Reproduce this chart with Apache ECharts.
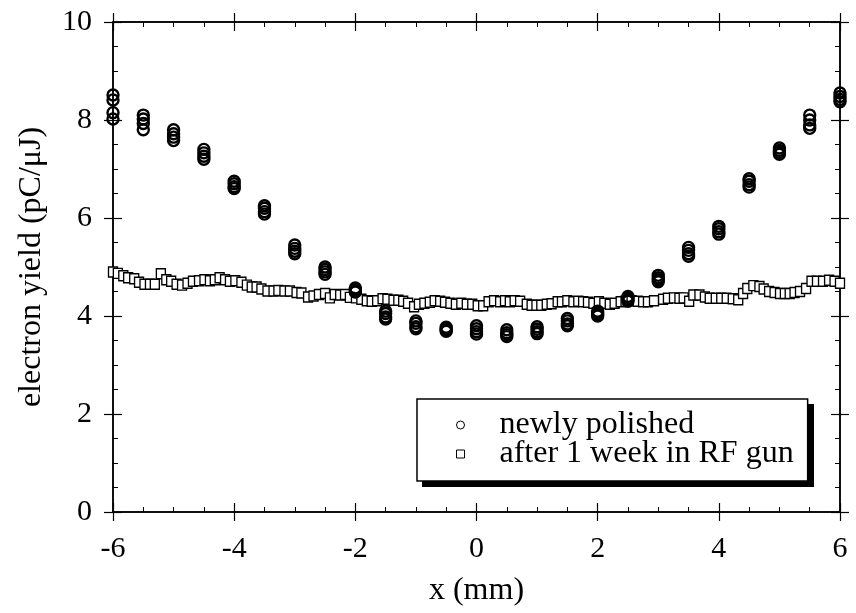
<!DOCTYPE html>
<html>
<head>
<meta charset="utf-8">
<script src="https://cdn.jsdelivr.net/npm/echarts@6/dist/echarts.min.js"></script>
<style>html,body{margin:0;padding:0;background:#fff;}#c{width:856px;height:613px;}</style>
</head>
<body>
<div id="c"></div>
<script>
// ---- data ----
const xTickLabels = ['-6','-4','-2','0','2','4','6'];
const yTickLabels = ['0','2','4','6','8','10'];

// newly polished: several repeated scans at each position
const polishedX = [-6,-5.5,-5,-4.5,-4,-3.5,-3,-2.5,-2,-1.5,-1,-0.5,0,0.5,1,1.5,2,2.5,3,3.5,4,4.5,5,5.5,6];
const polishedScan1 = [8.51,8.10,7.80,7.40,6.75,6.25,5.45,5.00,4.57,4.10,3.90,3.77,3.80,3.72,3.78,3.95,4.10,4.40,4.83,5.40,5.83,6.80,7.43,8.10,8.55];
const polishedScan2 = [8.41,8.02,7.72,7.33,6.70,6.20,5.38,4.95,4.54,4.05,3.85,3.74,3.74,3.66,3.73,3.90,4.06,4.36,4.78,5.34,5.78,6.75,7.38,8.00,8.48];
const polishedScan3 = [8.15,7.93,7.65,7.26,6.64,6.13,5.32,4.90,4.51,3.98,3.78,3.71,3.68,3.62,3.68,3.84,4.03,4.33,4.74,5.27,5.72,6.68,7.34,7.90,8.42];
const polishedScan4 = [8.02,7.80,7.58,7.20,6.60,6.08,5.27,4.85,4.49,3.94,3.74,3.69,3.63,3.58,3.64,3.80,4.00,4.30,4.70,5.22,5.67,6.63,7.30,7.83,8.37];

// after 1 week in RF gun
const agedX = [
 -6.00,-5.92,-5.83,-5.75,-5.65,-5.57,-5.48,-5.39,-5.31,-5.21,-5.12,-5.04,-4.95,-4.86,-4.77,-4.68,-4.58,-4.49,-4.40,-4.32,-4.24,-4.15,-4.07,-3.98,-3.88,-3.79,-3.71,-3.63,-3.55,-3.45,-3.35,-3.27,-3.17,-3.08,
 -2.97,-2.89,-2.78,-2.69,-2.60,-2.50,-2.42,-2.34,-2.25,-2.17,-2.09,-1.99,-1.90,-1.81,-1.73,-1.64,-1.55,-1.47,-1.37,-1.29,-1.21,-1.13,-1.03,-0.95,-0.86,-0.77,-0.69,-0.60,-0.52,-0.43,-0.34,-0.25,-0.16,-0.07,0.02,
 0.11,0.20,0.29,0.39,0.47,0.55,0.63,0.72,0.83,0.91,0.99,1.07,1.16,1.24,1.34,1.41,1.50,1.60,1.68,1.76,1.84,1.93,2.02,2.11,2.20,2.28,2.38,2.46,2.56,2.66,2.75,2.83,2.93,
 3.08,3.16,3.26,3.35,3.42,3.51,3.58,3.68,3.77,3.85,3.95,4.04,4.13,4.23,4.32,4.40,4.47,4.57,4.67,4.74,4.83,4.92,5.01,5.09,5.17,5.25,5.34,5.44,5.53,5.62,5.72,5.82,5.91,6.00
];
const agedY = [
 4.90,4.87,4.82,4.78,4.76,4.69,4.65,4.65,4.65,4.86,4.74,4.71,4.65,4.63,4.67,4.71,4.72,4.74,4.72,4.74,4.78,4.74,4.71,4.72,4.69,4.63,4.59,4.59,4.55,4.51,4.51,4.52,4.51,4.51,
 4.48,4.47,4.39,4.41,4.44,4.46,4.37,4.44,4.43,4.44,4.38,4.37,4.34,4.31,4.30,4.31,4.35,4.34,4.32,4.32,4.30,4.26,4.19,4.24,4.26,4.28,4.31,4.30,4.28,4.26,4.24,4.26,4.24,4.24,4.21,
 4.21,4.29,4.31,4.29,4.31,4.29,4.31,4.30,4.24,4.22,4.22,4.22,4.24,4.25,4.29,4.29,4.31,4.29,4.30,4.29,4.28,4.26,4.29,4.26,4.24,4.26,4.29,4.30,4.31,4.30,4.29,4.29,4.31,
 4.34,4.36,4.37,4.36,4.37,4.30,4.43,4.43,4.39,4.36,4.36,4.36,4.36,4.35,4.33,4.46,4.56,4.62,4.60,4.55,4.50,4.48,4.46,4.46,4.46,4.48,4.50,4.56,4.71,4.71,4.71,4.73,4.71,4.67
];

const seriesNames = ['newly polished', 'after 1 week in RF gun'];
const xTitle = 'x (mm)';
const yTitle = 'electron yield (pC/\u03bcJ)';

// ---- build ----
const FONT = 'Liberation Serif';
const polishedData = [];
[polishedScan1, polishedScan2, polishedScan3, polishedScan4].forEach(scan => {
  polishedX.forEach((x, i) => polishedData.push([x, scan[i]]));
});
const agedData = agedX.map((x, i) => [x, agedY[i]]);

const black = '#000';
function axisBase(extra) {
  return Object.assign({
    type: 'value',
    splitLine: { show: false },
    axisLine: { show: true, onZero: false, lineStyle: { color: black, width: 1.5 } },
    axisLabel: { show: false },
  }, extra);
}
const tickStyle = { fontFamily: FONT, fontSize: 30, color: black };
const titleStyle = { fontFamily: FONT, fontSize: 32, color: black };

const xAxes = [
  axisBase({ min: -6, max: 6, interval: 2, position: 'bottom',
    axisTick: { show: true, inside: false, length: 9, lineStyle: { color: black, width: 1.2 } },
    axisLabel: Object.assign({ show: true, margin: 22, formatter: v => xTickLabels[Math.round((v + 6) / 2)] }, tickStyle),
    name: xTitle, nameLocation: 'middle', nameGap: 63, nameTextStyle: titleStyle }),
  axisBase({ min: -6, max: 6, interval: 2, position: 'bottom',
    axisTick: { show: true, inside: true, length: 9, lineStyle: { color: black, width: 1.2 } },
    minorTick: { show: true, splitNumber: 4, length: 5, lineStyle: { color: black, width: 1 } } }),
  axisBase({ min: -6, max: 6, interval: 2, position: 'top',
    axisTick: { show: true, inside: false, length: 9, lineStyle: { color: black, width: 1.2 } } }),
  axisBase({ min: -6, max: 6, interval: 2, position: 'top',
    axisTick: { show: true, inside: true, length: 9, lineStyle: { color: black, width: 1.2 } },
    minorTick: { show: true, splitNumber: 4, length: 5, lineStyle: { color: black, width: 1 } } })
];
const yAxes = [
  axisBase({ min: 0, max: 10, interval: 2, position: 'left',
    axisTick: { show: true, inside: false, length: 9, lineStyle: { color: black, width: 1.2 } },
    axisLabel: Object.assign({ show: true, margin: 21, formatter: v => yTickLabels[Math.round(v / 2)] }, tickStyle),
    name: yTitle, nameLocation: 'middle', nameGap: 65, nameRotate: 90, nameTextStyle: titleStyle }),
  axisBase({ min: 0, max: 10, interval: 2, position: 'left',
    axisTick: { show: true, inside: true, length: 9, lineStyle: { color: black, width: 1.2 } },
    minorTick: { show: true, splitNumber: 4, length: 5, lineStyle: { color: black, width: 1 } } }),
  axisBase({ min: 0, max: 10, interval: 2, position: 'right',
    axisTick: { show: true, inside: false, length: 9, lineStyle: { color: black, width: 1.2 } } }),
  axisBase({ min: 0, max: 10, interval: 2, position: 'right',
    axisTick: { show: true, inside: true, length: 9, lineStyle: { color: black, width: 1.2 } },
    minorTick: { show: true, splitNumber: 4, length: 5, lineStyle: { color: black, width: 1 } } })
];

const chart = echarts.init(document.getElementById('c'), null, { renderer: 'canvas' });
chart.setOption({
  backgroundColor: '#fff',
  animation: false,
  grid: { left: 113, right: 16, top: 22, bottom: 101, containLabel: false },
  xAxis: xAxes,
  yAxis: yAxes,
  graphic: [
    // drop shadow of the legend box
    { type: 'rect', left: 422, top: 404, z: 1, silent: true,
      shape: { width: 392, height: 83 }, style: { fill: black } }
  ],
  legend: {
    orient: 'vertical',
    left: 417, top: 399, z: 10,
    padding: [10, 14, 11, 39],
    itemGap: -3,
    itemWidth: 8, itemHeight: 8,
    backgroundColor: '#fff',
    borderColor: black, borderWidth: 1.5,
    textStyle: { fontFamily: FONT, fontSize: 32, color: black, padding: [0, 0, 0, 30] },
    data: [
      { name: seriesNames[0], icon: 'circle', itemStyle: { color: '#fff', borderColor: black, borderWidth: 1 } },
      { name: seriesNames[1], icon: 'rect', itemStyle: { color: '#fff', borderColor: black, borderWidth: 1 } }
    ]
  },
  series: [
    {
      name: seriesNames[1], type: 'scatter', xAxisIndex: 0, yAxisIndex: 0,
      symbol: 'rect', symbolSize: [9, 10],
      itemStyle: { color: '#fff', borderColor: black, borderWidth: 1.4, opacity: 1 },
      data: agedData, z: 2
    },
    {
      name: seriesNames[0], type: 'scatter', xAxisIndex: 0, yAxisIndex: 0,
      symbol: 'circle', symbolSize: 11,
      itemStyle: { color: 'rgba(255,255,255,0)', borderColor: black, borderWidth: 2.4, opacity: 1 },
      data: polishedData, z: 3
    }
  ]
});
</script>
</body>
</html>
